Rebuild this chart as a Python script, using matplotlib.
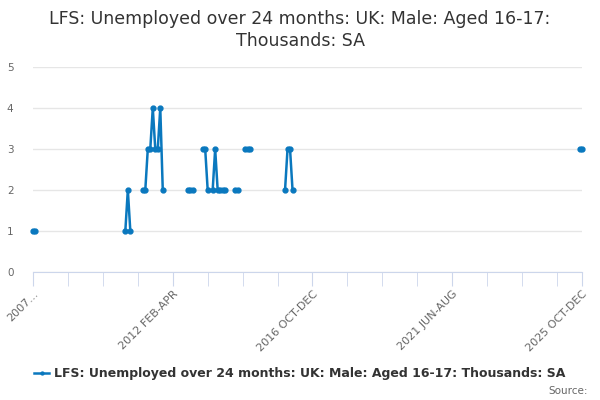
import matplotlib
matplotlib.use("Agg")
import matplotlib.pyplot as plt
import numpy as np

title = "LFS: Unemployed over 24 months: UK: Male: Aged 16-17:\nThousands: SA"
series_name = "LFS: Unemployed over 24 months: UK: Male: Aged 16-17: Thousands: SA"

# rolling three-month periods, 2007 JUN-AUG to 2025 OCT-DEC
months = ["JAN", "FEB", "MAR", "APR", "MAY", "JUN",
          "JUL", "AUG", "SEP", "OCT", "NOV", "DEC"]
first_year, first_month = 2007, 5   # JUN
n_periods = 221
periods = []
for i in range(n_periods):
    m = first_month + i
    y = first_year + m // 12
    periods.append(f"{y} {months[m % 12]}-{months[(m + 2) % 12]}")

# observed values (thousands); other periods have no data
obs_periods = ["2007 JUN-AUG", "2007 JUL-SEP",
               "2010 JUL-SEP", "2010 AUG-OCT", "2010 SEP-NOV",
               "2011 FEB-APR", "2011 MAR-MAY", "2011 APR-JUN", "2011 MAY-JUL",
               "2011 JUN-AUG", "2011 JUL-SEP", "2011 AUG-OCT", "2011 SEP-NOV",
               "2011 OCT-DEC",
               "2012 AUG-OCT", "2012 SEP-NOV", "2012 OCT-DEC",
               "2013 FEB-APR", "2013 MAR-MAY", "2013 APR-JUN",
               "2013 JUN-AUG", "2013 JUL-SEP", "2013 AUG-OCT", "2013 SEP-NOV",
               "2013 OCT-DEC", "2013 NOV-JAN",
               "2014 MAR-MAY", "2014 APR-JUN",
               "2014 JUL-SEP", "2014 AUG-OCT", "2014 SEP-NOV",
               "2015 NOV-JAN", "2015 DEC-FEB", "2016 JAN-MAR", "2016 FEB-APR",
               "2025 SEP-NOV", "2025 OCT-DEC"]
obs_values = [1, 1,
              1, 2, 1,
              2, 2, 3, 3,
              4, 3, 3, 4,
              2,
              2, 2, 2,
              3, 3, 2,
              2, 3, 2, 2,
              2, 2,
              2, 2,
              3, 3, 3,
              2, 3, 3, 2,
              3, 3]

tick_labels = {"2007 JUN-AUG": "2007...", "2012 FEB-APR": "2012 FEB-APR",
               "2016 OCT-DEC": "2016 OCT-DEC", "2021 JUN-AUG": "2021 JUN-AUG",
               "2025 OCT-DEC": "2025 OCT-DEC"}

values = np.full(n_periods, np.nan)
for p, v in zip(obs_periods, obs_values):
    values[periods.index(p)] = v

blue = "#0a78be"
fig = plt.figure(figsize=(6, 4), dpi=100)
ax = fig.add_axes([0.055, 0.32, 0.915, 0.5125])

x = np.arange(n_periods)
ax.plot(x, values, color=blue, lw=1.8, marker="o", ms=3.5, clip_on=False,
        label=series_name)

ax.set_xlim(0, n_periods - 1)
ax.set_ylim(0, 5)
ax.set_yticks(range(6))
ax.grid(axis="y", color="#e6e6e6", lw=1)
ax.set_axisbelow(True)
for s in ["left", "right", "top"]:
    ax.spines[s].set_visible(False)
ax.spines["bottom"].set_color("#ccd6eb")
ax.tick_params(axis="y", length=0, labelsize=7.5, labelcolor="#666666", pad=14)

ax.set_xticks(np.arange(0, n_periods, 14), minor=True)
ax.set_xticks([periods.index(p) for p in tick_labels])
ax.set_xticklabels(list(tick_labels.values()), rotation=45, ha="right",
                   rotation_mode="anchor", fontsize=8, color="#666666")
ax.tick_params(axis="x", which="both", length=10, color="#ccd6eb")
ax.tick_params(axis="x", which="major", pad=2)

fig.suptitle(title, y=0.975, fontsize=12.5, color="#333333", linespacing=1.25)

leg = fig.legend(loc="center", bbox_to_anchor=(0.5, 0.065), frameon=False,
                 prop={"weight": "bold", "size": 9}, handlelength=1.2,
                 handletextpad=0.4, markerscale=0.6)
for t in leg.get_texts():
    t.set_color("#333333")
fig.text(0.98, 0.022, "Source:", ha="right", va="center", fontsize=7.5,
         color="#666666")

fig.savefig("out.png", dpi=100)
